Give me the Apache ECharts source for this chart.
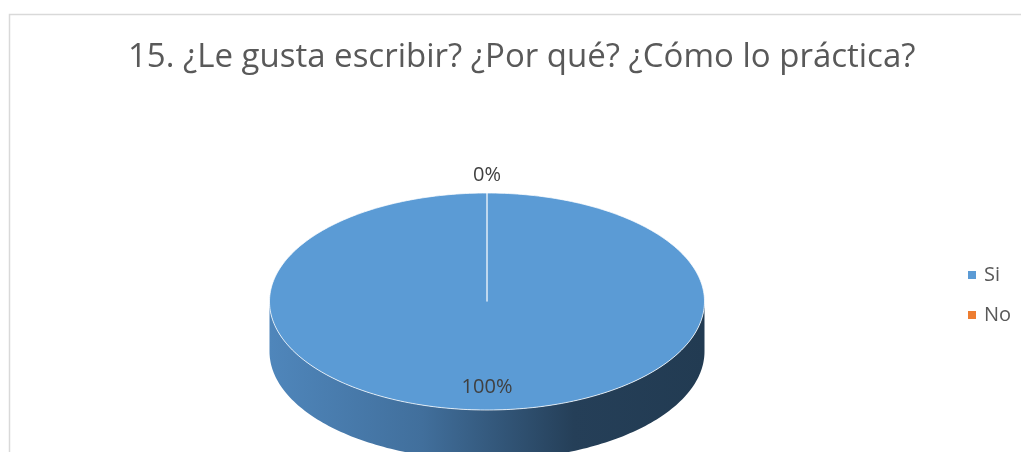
<!DOCTYPE html>
<html><head><meta charset="utf-8">
<script src="https://cdn.jsdelivr.net/npm/echarts@6/dist/echarts.min.js"></script>
<style>html,body{margin:0;padding:0;background:#fff}#c{width:1021px;height:452px}</style>
</head><body><div id="c"></div>
<script>
const titleText = '15. ¿Le gusta escribir? ¿Por qué? ¿Cómo lo práctica?';
const categories = ['Si', 'No'];
const values = [100, 0];
const colors = ['#5b9bd5', '#ed7d31'];

// layout
const CX = 487, CY = 301.5, RX = 217.5, RY = 108.5, DEPTH = 50;
const total = values.reduce((a, b) => a + b, 0);
const starts = [];
{ let acc = 0; values.forEach(v => { starts.push(acc); acc += v; }); }

function pt(a, dy) { return [CX + RX * Math.sin(a), CY - RY * Math.cos(a) + (dy || 0)]; }
function arc(a0, a1, dy) {
  const n = Math.max(2, Math.ceil(Math.abs(a1 - a0) / 0.02));
  const out = [];
  for (let i = 0; i <= n; i++) out.push(pt(a0 + (a1 - a0) * i / n, dy));
  return out;
}

function makeRender(idx) {
  return function (params, api) {
    const v = api.value(0);
    const a0 = starts[idx] / total * Math.PI * 2;
    const a1 = (starts[idx] + v) / total * Math.PI * 2;
    const children = [];
    const pct = Math.round(v / total * 100) + '%';
    if (v > 0) {
      const b0 = Math.max(a0, Math.PI / 2), b1 = Math.min(a1, Math.PI * 1.5);
      if (b1 > b0) {
        const top = arc(b0, b1, 0);
        const bot = arc(b1, b0, DEPTH);
        children.push({
          type: 'polygon', shape: { points: top.concat(bot) },
          style: {
            fill: { type: 'linear', x: CX - RX, y: 0, x2: CX + RX, y2: 0, global: true,
              colorStops: [{ offset: 0, color: '#4f86bb' }, { offset: 0.35, color: '#416f9c' },
                           { offset: 0.7, color: '#253f58' }, { offset: 1, color: '#223b52' }] },
            stroke: null
          }
        });
      }
      const face = [[CX, CY]].concat(arc(a0, a1, 0));
      children.push({
        type: 'polygon', shape: { points: face },
        style: { fill: colors[idx], stroke: 'rgba(255,255,255,0.75)', lineWidth: 1 }
      });
    }
    const mid = (a0 + a1) / 2;
    let lp;
    if (v / total > 0.05) {
      lp = [CX + RX * 0.79 * Math.sin(mid), CY - RY * 0.79 * Math.cos(mid)];
    } else {
      lp = [CX + (RX + 18) * Math.sin(mid), CY - (RY + 18) * Math.cos(mid)];
    }
    children.push({
      type: 'text', x: lp[0], y: lp[1],
      style: { text: pct, fill: '#404040', font: '20px "Open Sans"', align: 'center', verticalAlign: 'middle' }
    });
    return { type: 'group', children: children };
  };
}

const chart = echarts.init(document.getElementById('c'), null, { renderer: 'canvas' });
chart.setOption({
  animation: false,
  color: colors,
  title: {
    text: titleText, left: 123, top: 36,
    textStyle: { fontFamily: 'Open Sans', fontSize: 33, fontWeight: 'normal', color: '#595959' }
  },
  legend: {
    orient: 'vertical', left: 963, top: 260, icon: 'rect', itemWidth: 8, itemHeight: 8, itemGap: 20,
    textStyle: { fontFamily: 'Open Sans', fontSize: 20, color: '#595959', padding: [0, 0, 0, 3] },
    data: categories
  },
  graphic: [{ type: 'rect', shape: { x: 9.5, y: 14.5, width: 1100, height: 600 },
    style: { fill: null, stroke: '#d9d9d9', lineWidth: 1.5 }, z: -10 }],
  series: categories.map((name, i) => ({
    type: 'custom', name: name, coordinateSystem: 'none',
    renderItem: makeRender(i), data: [[values[i]]]
  }))
});
</script></body></html>
